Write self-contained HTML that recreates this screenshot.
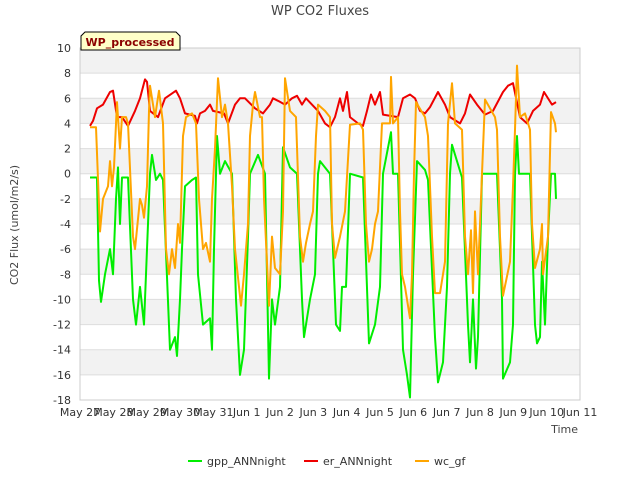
<!DOCTYPE html>
<html><head><meta charset="utf-8"><style>
body{margin:0;background:#fff;font-family:"Liberation Sans","DejaVu Sans",sans-serif;}
svg text{font-family:"DejaVu Sans","Liberation Sans",sans-serif;}
</style></head><body>
<svg id="chart" width="640" height="480" xmlns="http://www.w3.org/2000/svg">
<text x="320" y="15" text-anchor="middle" font-size="13" fill="#444">WP CO2 Fluxes</text>
<g id="bands"></g><g id="grid"></g>
<rect x="80" y="48" width="500" height="352" fill="none" stroke="#ccc"/>
<g id="series"></g><g id="xticks"></g><g id="yticks"></g>
<text transform="translate(18,225) rotate(-90)" text-anchor="middle" font-size="11" fill="#444">CO2 Flux (umol/m2/s)</text>
<text x="578" y="433" text-anchor="end" font-size="11" fill="#444">Time</text>
<g>
<path d="M81,50 L81,36 L85,32 L176,32 L180,36 L180,50 Z" fill="#ffffc8" stroke="#000"/>
<text x="130" y="46" text-anchor="middle" font-size="11" font-weight="bold" fill="#8b0000">WP_processed</text>
</g>
<g id="legend"></g>
</svg>
<script>
const xTickLabels=["May 27","May 28","May 29","May 30","May 31","Jun 1","Jun 2","Jun 3","Jun 4","Jun 5","Jun 6","Jun 7","Jun 8","Jun 9","Jun 10","Jun 11"];
const yTickValues=[10,8,6,4,2,0,-2,-4,-6,-8,-10,-12,-14,-16,-18];
const gppTimes=[.30,.51,.57,.63,.75,.90,.99,1.08,1.14,1.20,1.26,1.44,1.59,1.68,1.80,1.92,2.01,2.10,2.16,2.28,2.40,2.49,2.70,2.85,2.91,3.00,3.06,3.15,3.36,3.48,3.54,3.69,3.90,3.96,4.02,4.11,4.20,4.35,4.56,4.68,4.80,4.92,5.04,5.10,5.34,5.55,5.67,5.76,5.85,6.00,6.09,6.30,6.51,6.66,6.72,6.90,7.05,7.14,7.20,7.50,7.68,7.80,7.86,7.98,8.10,8.49,8.67,8.85,9.00,9.09,9.33,9.39,9.54,9.69,9.81,9.90,9.99,10.11,10.35,10.44,10.65,10.74,10.89,11.01,11.10,11.16,11.46,11.64,11.70,11.79,11.88,11.94,12.06,12.51,12.66,12.69,12.90,12.99,13.05,13.11,13.17,13.50,13.65,13.71,13.80,13.86,13.95,14.04,14.13,14.25,14.28];
const gppValues=[-.3,-.3,-8.5,-10.2,-8,-6,-8,-2,.5,-4,-.3,-.3,-10,-12,-9,-12,-6,0,1.5,-.5,0,-.5,-14,-13,-14.5,-10,-6,-1,-.5,-.3,-8,-12,-11.5,-14,-6,3,0,1,0,-10,-16,-14,-5,0,1.5,0,-16.3,-10,-12,-9,2.1,.5,0,-10,-13,-10,-8,0,1,0,-12,-12.5,-9,-9,0,-.3,-13.5,-12,-9,0,3.3,0,0,-14,-16,-17.8,-8,1,.3,-.5,-13,-16.6,-15,-9,0,2.3,-.3,-12,-15,-10,-15.5,-13,0,0,-10,-16.3,-15,-12,0,3,0,0,-12,-13.5,-13,-7,-12,-5,0,0,-2];
const erTimes=[.30,.39,.51,.69,.90,.99,1.11,1.26,1.44,1.65,1.80,1.95,2.01,2.10,2.34,2.55,2.88,3.00,3.15,3.45,3.51,3.60,3.75,3.90,3.99,4.32,4.44,4.65,4.80,4.95,5.10,5.25,5.49,5.70,5.79,5.94,6.15,6.36,6.51,6.66,6.78,7.14,7.35,7.50,7.65,7.80,7.89,8.01,8.10,8.34,8.49,8.61,8.73,8.85,9.00,9.09,9.54,9.69,9.90,10.05,10.20,10.35,10.50,10.74,10.95,11.10,11.40,11.55,11.70,11.91,12.15,12.39,12.69,12.84,12.99,13.20,13.41,13.59,13.80,13.92,14.16,14.28];
const erValues=[3.8,4.2,5.2,5.5,6.5,6.6,4.5,4.5,3.8,5,6,7.5,7.3,5,4.5,6,6.6,6,4.8,4.6,4,4.8,5,5.5,5,4.8,4,5.5,6,6,5.6,5.2,4.8,5.5,6,5.8,5.5,6,6.2,5.5,6,5,4,3.7,4.5,6,5,6.5,4.5,4,3.8,5,6.3,5.5,6.5,4.7,4.5,6,6.3,6,5,4.8,5.3,6.5,5.5,4.5,4,4.8,6.3,5.5,4.7,5,6.5,7,7.2,4.5,4,5,5.5,6.5,5.5,5.7];
const wcTimes=[.30,.48,.60,.69,.84,.90,.96,1.02,1.11,1.20,1.26,1.38,1.44,1.59,1.65,1.80,1.86,1.92,2.01,2.07,2.10,2.25,2.37,2.49,2.58,2.67,2.76,2.85,2.94,3.00,3.09,3.18,3.36,3.48,3.57,3.69,3.78,3.90,3.96,4.05,4.14,4.26,4.35,4.44,4.56,4.65,4.77,4.83,4.92,5.04,5.10,5.19,5.25,5.40,5.46,5.52,5.67,5.76,5.85,6.00,6.09,6.15,6.30,6.48,6.60,6.69,6.78,6.90,6.99,7.08,7.14,7.35,7.50,7.56,7.65,7.80,7.95,8.10,8.40,8.49,8.58,8.67,8.76,8.85,8.94,9.06,9.30,9.33,9.39,9.54,9.60,9.66,9.75,9.90,9.96,10.02,10.08,10.35,10.44,10.56,10.65,10.80,10.95,11.04,11.16,11.25,11.46,11.55,11.64,11.73,11.79,11.85,11.94,12.06,12.15,12.45,12.51,12.60,12.69,12.90,12.99,13.05,13.11,13.20,13.35,13.50,13.56,13.65,13.80,13.86,13.89,14.04,14.13,14.25,14.28];
const wcValues=[3.7,3.7,-4.6,-2,-1,1,-1,.5,5.7,2,4.5,4.5,4,-5,-6,-2,-2.5,-3.5,-1,5,7,4.5,6.6,4,-6,-8,-6,-7.5,-4,-5.5,3,4.5,4.8,4,-2,-6,-5.5,-7,-2,2,7.6,4.5,5.5,4,-1,-6,-9,-10.5,-8,-4,3,5.5,6.5,4.5,4.5,-2,-10.5,-5,-7.5,-8,-3,7.6,5,4.5,-5,-7,-5.5,-4,-3,3,5.5,5,4.5,-4,-6.7,-5,-3,3.9,4,3.5,-4,-7,-6,-4,-3,4,4,7.7,4,4.5,-3,-8,-9,-11.5,-8,0,5.7,4.5,3,-5,-9.5,-9.5,-7,4,7.2,4,3.5,-5,-8,-4.5,-9.5,-3,-8,0,5.9,4.5,3.5,-5,-9.7,-7,-1,3.5,8.6,4.5,4.8,3.5,-4,-7.5,-6,-4,-8,-5,4.9,4,3.3];

const NS="http://www.w3.org/2000/svg";
const L=80,R=580,T=48,B=400,yMin=-18,yMax=10,days=15;
const xs=d=>L+(R-L)*d/days;
const ys=v=>B-(B-T)*(v-yMin)/(yMax-yMin);
function mk(tag,attrs,parent){const e=document.createElementNS(NS,tag);for(const k in attrs)e.setAttribute(k,attrs[k]);parent.appendChild(e);return e;}
const bands=document.getElementById('bands'),grid=document.getElementById('grid');
for(let v=-16;v<10;v+=4){const r=mk('rect',{x:L,y:ys(v+2),width:R-L,height:ys(v)-ys(v+2),fill:'#f2f2f2'},bands);

}
const yt=document.getElementById('yticks');
yTickValues.forEach(v=>{const l=mk('line',{x1:L,x2:R,y1:ys(v),y2:ys(v),stroke:'#ddd'},grid);


const t=mk('text',{x:71,y:ys(v)+4,'text-anchor':'end','font-size':'11',fill:'#333'},yt);t.textContent=v;

});
const xt=document.getElementById('xticks');
xTickLabels.forEach((s,i)=>{const t=mk('text',{x:xs(i),y:416,'text-anchor':'middle','font-size':'11',fill:'#333'},xt);t.textContent=s;

});
const sg=document.getElementById('series');
function line(times,vals,color,name){const d=times.map((t,i)=>(i?'L':'M')+xs(t).toFixed(1)+','+ys(vals[i]).toFixed(1)).join('');
const p=mk('path',{d:d,fill:'none',stroke:color,'stroke-width':'2','stroke-linejoin':'round'},sg);

}
line(gppTimes,gppValues,'#00ee00','gpp-annnight-line');
line(erTimes,erValues,'#ee0000','er-annnight-line');
line(wcTimes,wcValues,'#ffa500','wc-gf-line');
const lg=document.getElementById('legend');
[[188,'#00ee00','gpp_ANNnight','legend-gpp'],[304,'#ee0000','er_ANNnight','legend-er'],[415,'#ffa500','wc_gf','legend-wc']].forEach(a=>{
const g=mk('g',{},lg);


mk('line',{x1:a[0],x2:a[0]+14,y1:461,y2:461,stroke:a[1],'stroke-width':'2'},g);
const t=mk('text',{x:a[0]+19,y:465,'font-size':'11',fill:'#333'},g);t.textContent=a[2];});
</script>
</body></html>
